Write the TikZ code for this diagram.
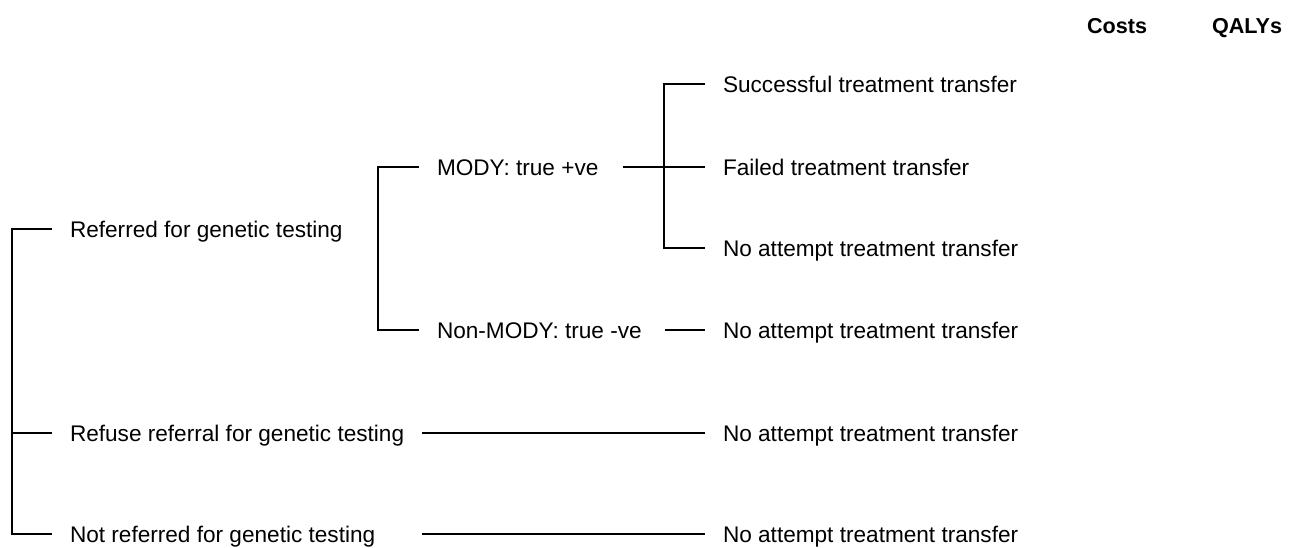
\documentclass[tikz,border=0pt]{standalone}
\usepackage{fontspec}
\setmainfont{Liberation Sans}
\tikzset{
  lbl/.style={anchor=west,inner sep=0pt,outer xsep=9pt,text height=8pt,text depth=0pt,font=\fontsize{11.3}{13.6}\selectfont},
  hd/.style={inner sep=0pt,text height=8pt,text depth=0pt,font=\fontsize{10.8}{13}\selectfont\bfseries}
}
\begin{document}
\begin{tikzpicture}[x=0.5pt,y=-0.5pt,line width=1pt]
    \useasboundingbox[fill=white] (0,0) rectangle (1293,547);
    \node[hd] (costs) at (1117,25) {Costs};
    \node[hd] (qalys) at (1247,25) {QALYs};
    \node[lbl] (ref) at (52,229) {Referred for genetic testing};
    \node[lbl] (refuse) at (52,433) {Refuse referral for genetic testing};
    \node[lbl] (notref) at (52,534) {Not referred for genetic testing};
    \node[lbl] (mody) at (419,167) {MODY: true +ve};
    \node[lbl] (nonmody) at (419,330) {Non-MODY: true -ve};
    \node[lbl] (succ) at (705,84) {Successful treatment transfer};
    \node[lbl] (fail) at (705,167) {Failed treatment transfer};
    \node[lbl] (noatt1) at (705,248) {No attempt treatment transfer};
    \node[lbl] (noatt2) at (705,330) {No attempt treatment transfer};
    \node[lbl] (noatt3) at (705,433) {No attempt treatment transfer};
    \node[lbl] (noatt4) at (705,534) {No attempt treatment transfer};
    \draw (ref.west) -- ++(-40,0) |- (notref.west);
    \draw (refuse.west) -- ++(-40,0);
    \draw (mody.west) -- ++(-41,0) |- (nonmody.west);
    \draw (succ.west) -- ++(-41,0) |- (noatt1.west);
    \draw[shorten <=3.5pt] (mody.east) -- (fail.west);
    \draw[shorten <=2.5pt] (nonmody.east) -- (noatt2.west);
    \draw (refuse.east) -- (noatt3.west);
    \draw (refuse.east |- notref.east) -- (noatt4.west);
\end{tikzpicture}
\end{document}
